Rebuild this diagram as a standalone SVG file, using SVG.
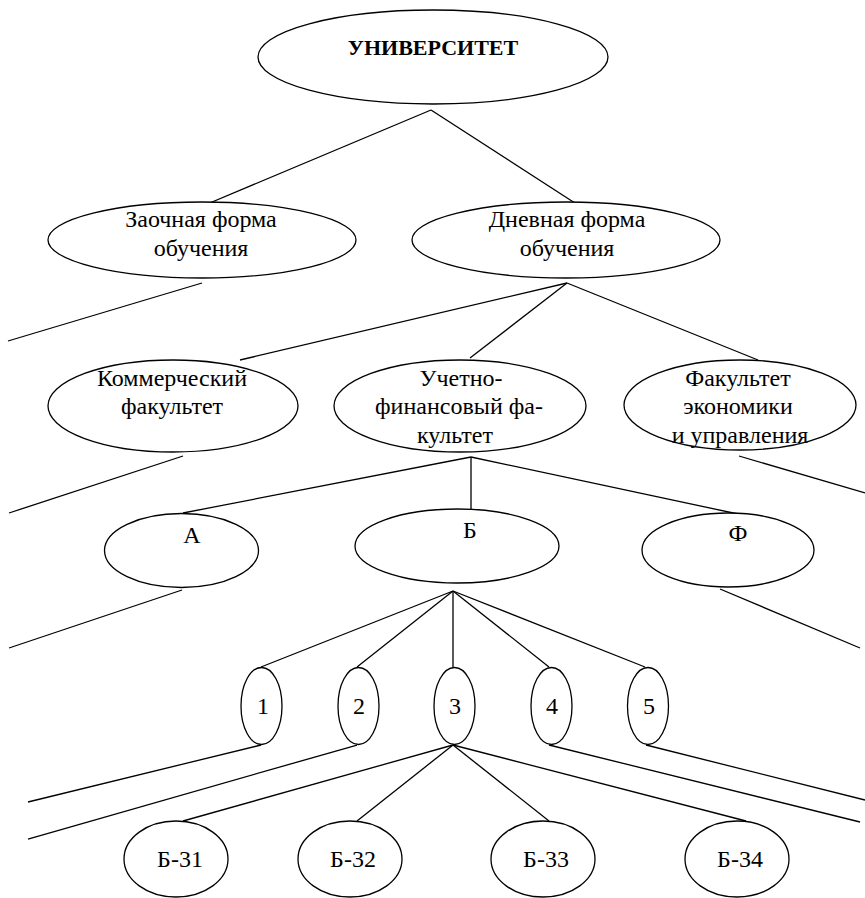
<svg xmlns="http://www.w3.org/2000/svg" width="865" height="898" viewBox="0 0 865 898">
<style>
.n ellipse{fill:#fff;stroke:#000;stroke-width:1.3}
text{font-family:"Liberation Serif","Times New Roman",serif;font-size:24px;fill:#000;text-anchor:middle}
.b{font-weight:bold;font-size:22px}
#connectors line{stroke:#000;stroke-width:1.3}
</style>
<rect width="865" height="898" fill="#fff"/>
<g id="connectors">
<line x1="431" y1="110" x2="205" y2="205"/>
<line x1="431" y1="110" x2="578" y2="205"/>
<line x1="202" y1="283" x2="8" y2="341"/>
<line x1="567" y1="283" x2="240" y2="360"/>
<line x1="567" y1="283" x2="470" y2="358"/>
<line x1="567" y1="283" x2="758" y2="360"/>
<line x1="183" y1="456" x2="9" y2="513"/>
<line x1="471" y1="457" x2="183" y2="513"/>
<line x1="471" y1="457" x2="471" y2="513"/>
<line x1="471" y1="457" x2="738" y2="514"/>
<line x1="739" y1="456" x2="865" y2="493"/>
<line x1="182" y1="590" x2="9" y2="648"/>
<line x1="720" y1="589" x2="860" y2="648"/>
<line x1="453" y1="591" x2="261" y2="667"/>
<line x1="453" y1="591" x2="357" y2="667"/>
<line x1="453" y1="591" x2="453" y2="667"/>
<line x1="453" y1="591" x2="549" y2="667"/>
<line x1="453" y1="591" x2="645" y2="667"/>
<line x1="261" y1="745" x2="28" y2="802"/>
<line x1="357" y1="745" x2="28" y2="839"/>
<line x1="453" y1="745" x2="183" y2="821"/>
<line x1="453" y1="745" x2="357" y2="821"/>
<line x1="453" y1="745" x2="549" y2="821"/>
<line x1="453" y1="745" x2="746" y2="821"/>
<line x1="549" y1="745" x2="860" y2="822"/>
<line x1="646" y1="745" x2="865" y2="800"/>
</g>
<g id="univ" class="n"><ellipse cx="433" cy="57" rx="175" ry="47"/><text class="b" x="433" y="55">УНИВЕРСИТЕТ</text></g>
<g id="zaoch" class="n"><ellipse cx="202" cy="240" rx="154" ry="38"/><text x="201" y="227">Заочная форма</text><text x="201" y="256">обучения</text></g>
<g id="dnev" class="n"><ellipse cx="566" cy="240" rx="154" ry="38"/><text x="567" y="227">Дневная форма</text><text x="567" y="256">обучения</text></g>
<g id="komm" class="n"><ellipse cx="173" cy="406" rx="125" ry="46"/><text x="172" y="386">Коммерческий</text><text x="172" y="414">факультет</text></g>
<g id="uchet" class="n"><ellipse cx="460" cy="406" rx="126" ry="46"/><text x="461" y="386">Учетно-</text><text x="459" y="414">финансовый фа-</text><text x="455" y="443">культет</text></g>
<g id="fakecon" class="n"><ellipse cx="740" cy="405" rx="116" ry="45"/><text x="738" y="386">Факультет</text><text x="738" y="414">экономики</text><text x="740" y="443">и управления</text></g>
<g id="a" class="n"><ellipse cx="181.5" cy="550.5" rx="77" ry="37"/><text x="192" y="543">А</text></g>
<g id="b" class="n"><ellipse cx="457" cy="546" rx="102" ry="37"/><text x="470" y="538">Б</text></g>
<g id="f" class="n"><ellipse cx="728" cy="550" rx="86" ry="37"/><text x="738" y="541">Ф</text></g>
<g id="n1" class="n"><ellipse cx="261.5" cy="706" rx="20.5" ry="38.5"/><text x="263" y="714">1</text></g>
<g id="n2" class="n"><ellipse cx="358.5" cy="706" rx="20.5" ry="38.5"/><text x="359" y="714">2</text></g>
<g id="n3" class="n"><ellipse cx="454.5" cy="706" rx="20.5" ry="38.5"/><text x="455" y="714">3</text></g>
<g id="n4" class="n"><ellipse cx="551.5" cy="706" rx="20.5" ry="38.5"/><text x="552" y="714">4</text></g>
<g id="n5" class="n"><ellipse cx="648" cy="706" rx="20.5" ry="38.5"/><text x="649" y="714">5</text></g>
<g id="b31" class="n"><ellipse cx="176" cy="859" rx="52" ry="38"/><text x="180" y="867">Б-31</text></g>
<g id="b32" class="n"><ellipse cx="350" cy="859" rx="52" ry="38"/><text x="353" y="867">Б-32</text></g>
<g id="b33" class="n"><ellipse cx="543" cy="859" rx="52" ry="38"/><text x="546" y="867">Б-33</text></g>
<g id="b34" class="n"><ellipse cx="737" cy="859" rx="52" ry="38"/><text x="740" y="867">Б-34</text></g>
</svg>
